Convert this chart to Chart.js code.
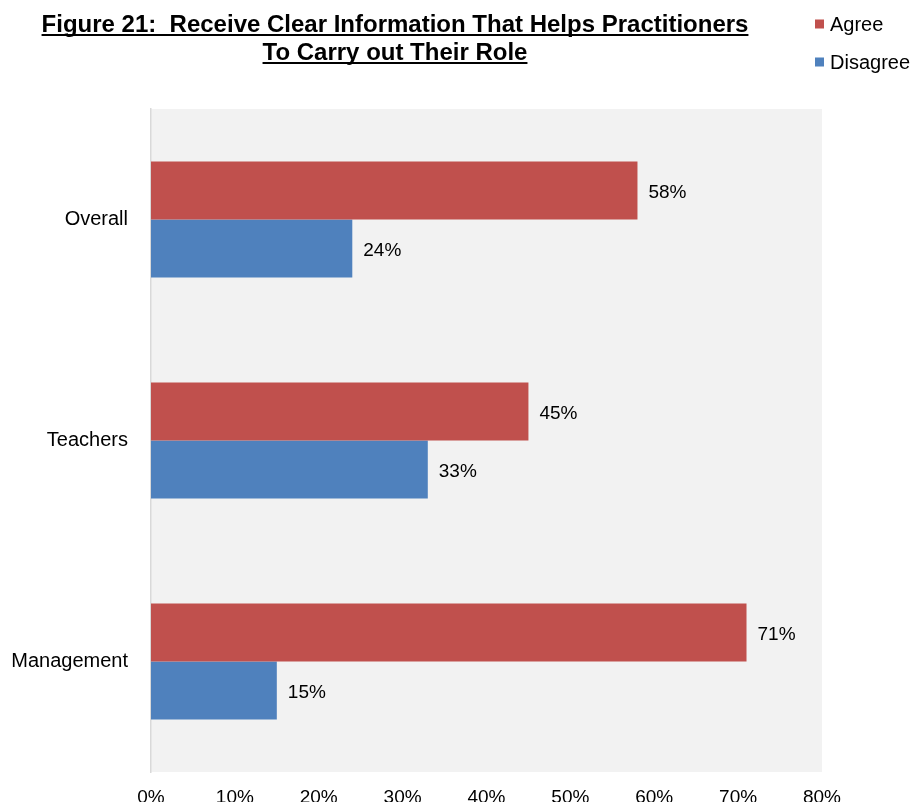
<!DOCTYPE html>
<html>
<head>
<meta charset="utf-8">
<title>Figure 21</title>
<script src="https://cdn.jsdelivr.net/npm/chart.js@4.4.1/dist/chart.umd.min.js"></script>
<style>
    html, body { margin: 0; padding: 0; background: #fff; }
    #wrap { width: 912px; height: 802px; }
</style>
</head>
<body>
<div id="wrap"><canvas id="myChart" width="912" height="802"></canvas></div>
<script>
var categories = ['Overall', 'Teachers', 'Management'];
var agree = [58, 45, 71];
var disagree = [24, 33, 15];
var seriesNames = ['Agree', 'Disagree'];
var seriesColors = ['#c0504d', '#4f81bd'];
var xTicks = [0, 10, 20, 30, 40, 50, 60, 70, 80];
var titleLines = ['Figure 21:  Receive Clear Information That Helps Practitioners', 'To Carry out Their Role'];

var fontFamily = '"Liberation Sans", Arial, sans-serif';
var ctx = document.getElementById('myChart').getContext('2d');

//pinta el fondo gris del area de la grafica
var plotBackground = {
    id: 'plotBackground',
    beforeDraw: function(chart){
        var a = chart.chartArea;
        var c = chart.ctx;
        c.save();
        c.fillStyle = '#f2f2f2';
        c.fillRect(a.left, a.top, a.right - a.left, a.bottom - a.top);
        c.restore();
    }
};

//titulo subrayado y leyenda vertical arriba a la derecha
var titleLegend = {
    id: 'titleLegend',
    afterDraw: function(chart){
        var c = chart.ctx;
        c.save();
        c.fillStyle = '#000';
        c.strokeStyle = '#000';
        c.lineWidth = 2;
        c.font = 'bold 24px ' + fontFamily;
        c.textAlign = 'center';
        c.textBaseline = 'alphabetic';
        var cx = 395;
        var baselines = [32, 60];
        for (var i = 0; i < titleLines.length; i++) {
            var w = c.measureText(titleLines[i]).width;
            c.fillText(titleLines[i], cx, baselines[i]);
            c.beginPath();
            c.moveTo(cx - w / 2, baselines[i] + 3);
            c.lineTo(cx + w / 2, baselines[i] + 3);
            c.stroke();
        }

        c.font = '20px ' + fontFamily;
        c.textAlign = 'left';
        var ds = chart.data.datasets;
        var rows = [24, 62];
        for (var j = 0; j < ds.length; j++) {
            c.fillStyle = ds[j].backgroundColor;
            c.fillRect(815, rows[j] - 4.5, 9, 9);
            c.fillStyle = '#000';
            c.textBaseline = 'middle';
            c.fillText(ds[j].label, 830, rows[j] + 1);
        }
        c.restore();
    }
};

//etiquetas con el valor al final de cada barra
var valueLabels = {
    id: 'valueLabels',
    afterDatasetsDraw: function(chart){
        var c = chart.ctx;
        c.save();
        c.font = '19px ' + fontFamily;
        c.fillStyle = '#000';
        c.textAlign = 'left';
        c.textBaseline = 'middle';
        chart.data.datasets.forEach(function(ds, i){
            var meta = chart.getDatasetMeta(i);
            meta.data.forEach(function(bar, k){
                c.fillText(ds.data[k] + '%', bar.x + 11, bar.y + 2);
            });
        });
        c.restore();
    }
};

var myChart = new Chart(ctx, {
    type: 'bar',
    data: {
        labels: categories,
        datasets: [{
            label: seriesNames[0],
            data: agree,
            backgroundColor: seriesColors[0],
            borderWidth: 0
        }, {
            label: seriesNames[1],
            data: disagree,
            backgroundColor: seriesColors[1],
            borderWidth: 0
        }]
    },
    options: {
        indexAxis: 'y',
        responsive: false,
        animation: false,
        categoryPercentage: 0.525,
        barPercentage: 1,
        layout: {
            padding: { top: 109, right: 90, bottom: 0, left: 0 }
        },
        scales: {
            x: {
                min: 0,
                max: 80,
                afterFit: function(scale){ scale.height = 30; },
                afterBuildTicks: function(scale){
                    scale.ticks = xTicks.map(function(v){ return { value: v }; });
                },
                ticks: {
                    padding: 6,
                    color: '#000',
                    font: { family: fontFamily, size: 19 },
                    callback: function(v){ return v + '%'; }
                },
                grid: { display: false },
                border: { display: false }
            },
            y: {
                afterFit: function(scale){ scale.width = 151; },
                ticks: {
                    padding: 15,
                    color: '#000',
                    font: { family: fontFamily, size: 20 }
                },
                grid: { display: false },
                border: { display: true, color: '#d9d9d9', width: 1.5 }
            }
        },
        plugins: {
            legend: { display: false },
            title: { display: false },
            tooltip: { enabled: false }
        }
    },
    plugins: [plotBackground, valueLabels, titleLegend]
});
</script>
</body>
</html>
